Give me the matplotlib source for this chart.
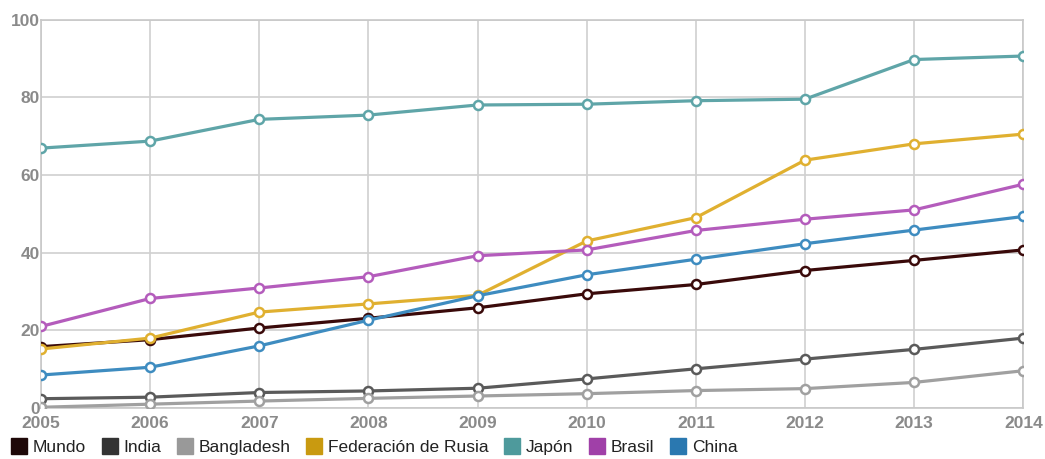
import matplotlib.pyplot as plt
from matplotlib.lines import Line2D

plt.rcParams['font.family'] = ['Liberation Sans', 'DejaVu Sans']

years = [2005, 2006, 2007, 2008, 2009, 2010, 2011, 2012, 2013, 2014]

mundo = [15.8, 17.6, 20.6, 23.1, 25.8, 29.4, 31.8, 35.4, 38.0, 40.7]
india = [2.4, 2.8, 4.0, 4.4, 5.1, 7.5, 10.1, 12.6, 15.1, 18.0]
bangladesh = [0.2, 1.0, 1.8, 2.5, 3.1, 3.7, 4.5, 5.0, 6.6, 9.6]
rusia = [15.2, 18.0, 24.7, 26.8, 29.0, 43.0, 49.0, 63.8, 68.0, 70.5]
japon = [66.9, 68.7, 74.3, 75.4, 78.0, 78.2, 79.1, 79.5, 89.7, 90.6]
brasil = [21.0, 28.2, 30.9, 33.8, 39.2, 40.7, 45.7, 48.6, 51.0, 57.6]
china = [8.5, 10.5, 16.0, 22.6, 28.9, 34.3, 38.3, 42.3, 45.8, 49.3]

names = ['Mundo', 'India', 'Bangladesh', 'Federación de Rusia', 'Japón', 'Brasil', 'China']
series = [mundo, india, bangladesh, rusia, japon, brasil, china]
# line colour, legend box colour
line_colors = ['#3a0a0a', '#5a5a5a', '#a0a0a0', '#e0b030', '#5fa5a8', '#b45cbc', '#3e8cc0']
box_colors = ['#1e0808', '#333333', '#999999', '#c99a10', '#4e9a9c', '#a040a8', '#2a78b0']

fig = plt.figure(figsize=(10.45, 4.59), dpi=100)
ax = fig.add_axes([0.0392, 0.111, 0.94, 0.8465])

for name, vals, c in zip(names, series, line_colors):
    ax.plot(years, vals, color=c, lw=2.3, marker='o', ms=6.5,
            markerfacecolor='white', markeredgecolor=c, markeredgewidth=1.8,
            zorder=3)

ax.set_xlim(2005, 2014)
ax.set_ylim(0, 100)
ax.set_xticks(years)
ax.set_yticks([0, 20, 40, 60, 80, 100])
ax.grid(True, color='#d0d0d0', lw=1.2)
ax.set_axisbelow(True)
for s in ax.spines.values():
    s.set_color('#c8c8c8')
    s.set_linewidth(1.2)
ax.tick_params(length=0, colors='#8a8a8a', labelsize=12.5)
ax.tick_params(axis='y', pad=1)
ax.tick_params(axis='x', pad=6)
for lab in ax.get_xticklabels() + ax.get_yticklabels():
    lab.set_fontweight('bold')

handles = [Line2D([], [], ls='none', marker='s', ms=11, markerfacecolor=c,
                  markeredgecolor=c) for c in box_colors]
leg = fig.legend(handles, names, loc='lower left', bbox_to_anchor=(0.0, -0.015),
                 ncol=7, frameon=False, fontsize=12.5, handletextpad=0.3,
                 columnspacing=0.85, handlelength=1.0, borderaxespad=0.2)
for t in leg.get_texts():
    t.set_color('#222222')

fig.savefig('out.png', dpi=100)
